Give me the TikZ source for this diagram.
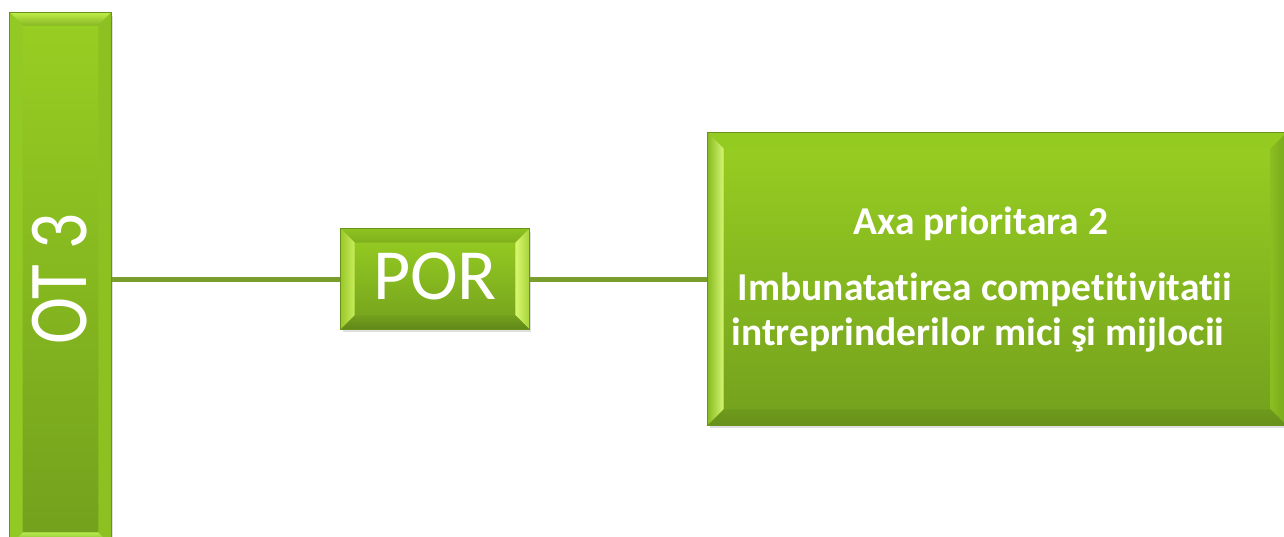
\documentclass[tikz,border=0pt]{standalone}
\usepackage{fontspec}
\setmainfont{Carlito}[Ligatures={NoCommon,NoContextual}]
\usetikzlibrary{calc,shadows}
\definecolor{gtop}{HTML}{98CF22}
\definecolor{gbot}{HTML}{73A01D}
\definecolor{lineg}{HTML}{7A9E2E}
\definecolor{edgeg}{HTML}{6A921C}
% bevel colours
\definecolor{otTa}{HTML}{BDEB48}\definecolor{otTb}{HTML}{86B623}
\definecolor{otL}{HTML}{93C924}\definecolor{otR}{HTML}{8DC021}
\definecolor{otBa}{HTML}{B8EC50}\definecolor{otBb}{HTML}{6E981C}
\definecolor{poTa}{HTML}{8CC21F}\definecolor{poTb}{HTML}{80B01E}
\definecolor{poLa}{HTML}{9AC82A}\definecolor{poLb}{HTML}{C8EE5C}
\definecolor{poRa}{HTML}{D8F870}\definecolor{poRb}{HTML}{A8D43A}
\definecolor{poBa}{HTML}{74A01D}\definecolor{poBb}{HTML}{5F8818}
\definecolor{axT}{HTML}{93CB21}
\definecolor{axLa}{HTML}{88BC20}\definecolor{axLb}{HTML}{D6F674}
\definecolor{axRa}{HTML}{8BBE20}\definecolor{axRb}{HTML}{78A81D}
\definecolor{axBa}{HTML}{6E9A1C}\definecolor{axBb}{HTML}{66901A}
\tikzset{
  gbox/.style={rectangle, inner sep=0pt, top color=gtop, bottom color=gbot,
    draw=edgeg, line width=0.6pt,
    drop shadow={shadow xshift=1.5pt, shadow yshift=-3pt, opacity=0.25}},
  conn/.style={draw=lineg, line width=5pt},
  wtext/.style={text=white, inner sep=0pt},
  bigtext/.style={wtext, anchor=base, font=\bfseries\fontsize{39.5}{41}\selectfont},
}
\newcommand{\bevels}[6]{%
  \path[#3] (#1.north west) -- (#1.north east) -- ($(#1.north east)+(-#2,#2)$) -- ($(#1.north west)+(#2,#2)$) -- cycle;
  \path[#4] (#1.north west) -- ($(#1.north west)+(#2,#2)$) -- ($(#1.south west)+(#2,-#2)$) -- (#1.south west) -- cycle;
  \path[#5] (#1.north east) -- ($(#1.north east)+(-#2,#2)$) -- ($(#1.south east)+(-#2,-#2)$) -- (#1.south east) -- cycle;
  \path[#6] (#1.south west) -- ($(#1.south west)+(#2,-#2)$) -- ($(#1.south east)+(-#2,-#2)$) -- (#1.south east) -- cycle;
  \draw[edgeg, line width=0.6pt] (#1.north west) rectangle (#1.south east);
}
\begin{document}
\begin{tikzpicture}[x=1pt, y=-1pt]
  \useasboundingbox (0,0) rectangle (1284,537);
  \fill[white] (0,0) rectangle (1284,537);
  \clip (0,0) rectangle (1284,537);
  % boxes
  \node[gbox, minimum width=101pt, minimum height=532pt] (ot) at (60.5,279) {};
  \node[gbox, minimum width=188pt, minimum height=100pt] (por) at (435,279) {};
  \node[gbox, minimum width=578pt, minimum height=292pt] (axa) at (997,279) {};
  % connectors
  \draw[conn] (ot) -- (por);
  \draw[conn] (por) -- (axa);
  % bevels
  \bevels{ot}{13}{top color=otTa, bottom color=otTb}{fill=otL}{fill=otR}{top color=otBa, bottom color=otBb}
  \bevels{por}{14}{top color=poTa, bottom color=poTb}{left color=poLa, right color=poLb}{left color=poRa, right color=poRb}{top color=poBa, bottom color=poBb}
  \bevels{axa}{16}{fill=axT}{left color=axLa, right color=axLb}{left color=axRa, right color=axRb}{top color=axBa, bottom color=axBb}
  % texts
  \node[wtext, rotate=90, font=\fontsize{71}{71}\selectfont] (otlabel) at (59.5,279) {\scalebox{1}[1.18]{OT 3}};
  \node[wtext, font=\fontsize{72}{72}\selectfont] (porlabel) at (435,276.5) {POR};
  \node[bigtext] (t1) at (981,235) {Axa prioritara 2};
  \node[bigtext] (t2) at (985,300) {Imbunatatirea competitivitatii};
  \node[bigtext] (t3) at (978,345) {intreprinderilor mici şi mijlocii};
\end{tikzpicture}
\end{document}
